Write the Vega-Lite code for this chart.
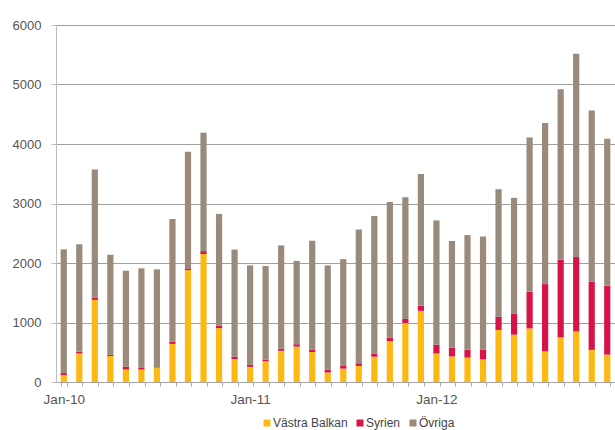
{
  "$schema": "https://vega.github.io/schema/vega-lite/v6.json",
  "width": 559,
  "height": 357,
  "autosize": {"type": "none"},
  "padding": {"left": 56, "top": 25, "right": 0, "bottom": 48},
  "background": "white",
  "config": {"view": {"stroke": null}, "font": "Liberation Sans"},
  "data": {
    "values": [
      {"manad": "Jan-10", "Västra Balkan": 115, "Syrien": 35, "Övriga": 2080},
      {"manad": "Feb-10", "Västra Balkan": 480, "Syrien": 30, "Övriga": 1805},
      {"manad": "Mar-10", "Västra Balkan": 1380, "Syrien": 40, "Övriga": 2150},
      {"manad": "Apr-10", "Västra Balkan": 435, "Syrien": 25, "Övriga": 1680},
      {"manad": "Maj-10", "Västra Balkan": 210, "Syrien": 45, "Övriga": 1615},
      {"manad": "Jun-10", "Västra Balkan": 210, "Syrien": 35, "Övriga": 1665},
      {"manad": "Jul-10", "Västra Balkan": 240, "Syrien": 8, "Övriga": 1645},
      {"manad": "Aug-10", "Västra Balkan": 640, "Syrien": 35, "Övriga": 2065},
      {"manad": "Sep-10", "Västra Balkan": 1880, "Syrien": 30, "Övriga": 1960},
      {"manad": "Okt-10", "Västra Balkan": 2150, "Syrien": 50, "Övriga": 1990},
      {"manad": "Nov-10", "Västra Balkan": 905, "Syrien": 40, "Övriga": 1880},
      {"manad": "Dec-10", "Västra Balkan": 385, "Syrien": 40, "Övriga": 1800},
      {"manad": "Jan-11", "Västra Balkan": 255, "Syrien": 35, "Övriga": 1670},
      {"manad": "Feb-11", "Västra Balkan": 350, "Syrien": 25, "Övriga": 1575},
      {"manad": "Mar-11", "Västra Balkan": 525, "Syrien": 35, "Övriga": 1735},
      {"manad": "Apr-11", "Västra Balkan": 595, "Syrien": 40, "Övriga": 1400},
      {"manad": "Maj-11", "Västra Balkan": 505, "Syrien": 40, "Övriga": 1830},
      {"manad": "Jun-11", "Västra Balkan": 160, "Syrien": 45, "Övriga": 1755},
      {"manad": "Jul-11", "Västra Balkan": 225, "Syrien": 45, "Övriga": 1795},
      {"manad": "Aug-11", "Västra Balkan": 270, "Syrien": 45, "Övriga": 2250},
      {"manad": "Sep-11", "Västra Balkan": 425, "Syrien": 50, "Övriga": 2315},
      {"manad": "Okt-11", "Västra Balkan": 685, "Syrien": 60, "Övriga": 2280},
      {"manad": "Nov-11", "Västra Balkan": 990, "Syrien": 70, "Övriga": 2045},
      {"manad": "Dec-11", "Västra Balkan": 1195, "Syrien": 85, "Övriga": 2215},
      {"manad": "Jan-12", "Västra Balkan": 480, "Syrien": 145, "Övriga": 2090},
      {"manad": "Feb-12", "Västra Balkan": 430, "Syrien": 145, "Övriga": 1795},
      {"manad": "Mar-12", "Västra Balkan": 410, "Syrien": 135, "Övriga": 1925},
      {"manad": "Apr-12", "Västra Balkan": 380, "Syrien": 160, "Övriga": 1905},
      {"manad": "Maj-12", "Västra Balkan": 875, "Syrien": 220, "Övriga": 2145},
      {"manad": "Jun-12", "Västra Balkan": 795, "Syrien": 350, "Övriga": 1950},
      {"manad": "Jul-12", "Västra Balkan": 900, "Syrien": 615, "Övriga": 2595},
      {"manad": "Aug-12", "Västra Balkan": 515, "Syrien": 1130, "Övriga": 2710},
      {"manad": "Sep-12", "Västra Balkan": 750, "Syrien": 1305, "Övriga": 2865},
      {"manad": "Okt-12", "Västra Balkan": 850, "Syrien": 1250, "Övriga": 3415},
      {"manad": "Nov-12", "Västra Balkan": 540, "Syrien": 1145, "Övriga": 2880},
      {"manad": "Dec-12", "Västra Balkan": 460, "Syrien": 1160, "Övriga": 2470}
    ]
  },
  "transform": [
    {"fold": ["Västra Balkan", "Syrien", "Övriga"], "as": ["serie", "antal"]},
    {"calculate": "indexof(['Västra Balkan','Syrien','Övriga'], datum.serie)", "as": "ord"}
  ],
  "mark": {"type": "bar"},
  "encoding": {
    "x": {
      "field": "manad",
      "type": "ordinal",
      "sort": null,
      "scale": {"paddingInner": 0.6, "paddingOuter": 0.3},
      "axis": {
        "title": null,
        "labelAngle": 0,
        "tickBand": "extent",
        "labelOverlap": false,
        "labelExpr": "indexof(datum.label,'Jan')==0 ? datum.label : ''",
        "domainColor": "#a6a6a6",
        "tickColor": "#a6a6a6",
        "tickSize": 4,
        "labelPadding": 6,
        "labelFontSize": 13.5,
        "labelColor": "#555555"
      }
    },
    "y": {
      "field": "antal",
      "type": "quantitative",
      "stack": "zero",
      "scale": {"domain": [0, 6000], "nice": false},
      "axis": {
        "title": null,
        "values": [0, 1000, 2000, 3000, 4000, 5000, 6000],
        "format": "d",
        "grid": true,
        "gridColor": "#a0a0a0",
        "gridWidth": 1,
        "domainColor": "#bdbdbd",
        "tickColor": "#bdbdbd",
        "tickSize": 5,
        "labelPadding": 10,
        "labelFontSize": 13,
        "labelColor": "#555555"
      }
    },
    "color": {
      "field": "serie",
      "type": "nominal",
      "scale": {
        "domain": ["Västra Balkan", "Syrien", "Övriga"],
        "range": ["#FDB913", "#D7144A", "#998A7C"]
      },
      "legend": {
        "title": null,
        "orient": "none",
        "direction": "horizontal",
        "legendX": 205,
        "legendY": 392,
        "symbolType": "square",
        "symbolSize": 49,
        "symbolStrokeWidth": 0,
        "labelFontSize": 12,
        "labelColor": "#444444",
        "labelOffset": 0,
        "columnPadding": 6,
        "padding": 0
      }
    },
    "order": {"field": "ord", "type": "quantitative"}
  }
}
